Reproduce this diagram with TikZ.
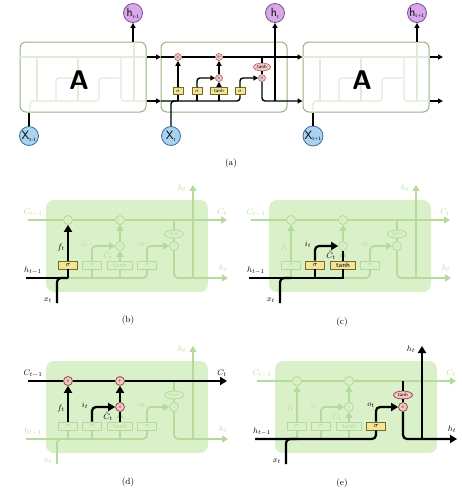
\documentclass[tikz,border=0pt]{standalone}
\usepackage{amsmath,amssymb}
\usepackage{xcolor}
\usepackage{tikz}
\usetikzlibrary{arrows.meta,positioning,calc,shapes.geometric}

\definecolor{hcol}{HTML}{D7A9E8}
\definecolor{hline}{HTML}{7E4A93}
\definecolor{xcol}{HTML}{A9D1F0}
\definecolor{xline}{HTML}{3F6E96}
\definecolor{gatecol}{HTML}{F4E49A}
\definecolor{gateline}{HTML}{7A6A20}
\definecolor{opcol}{HTML}{F2C6C6}
\definecolor{opline}{HTML}{9A4A4A}
\definecolor{boxline}{HTML}{93B382}
\definecolor{afaintc}{HTML}{E0EBD8}
\definecolor{cellfill}{HTML}{DAF0C9}
\definecolor{fadecol}{HTML}{B4DA9C}

% which parts each of the panels (b)-(e) brings forward
\tikzset{
  on-b-g1/.style={gon}, on-b-lh0/.style={hlab}, on-b-lx/.style={hlab}, on-b-lf/.style={hlab},
  on-c-g2/.style={gon}, on-c-g3/.style={gon}, on-c-lh0/.style={hlab}, on-c-lx/.style={hlab},
  on-c-li/.style={hlab}, on-c-lct/.style={hlab},
  on-d-f/.style={opon}, on-d-add/.style={opon}, on-d-i/.style={opon}, on-d-lc0/.style={hlab},
  on-d-lc1/.style={hlab}, on-d-lf/.style={hlab}, on-d-li/.style={hlab}, on-d-lct/.style={hlab},
  on-e-g4/.style={gon}, on-e-tanh/.style={opon}, on-e-o/.style={opon}, on-e-lh0/.style={hlab},
  on-e-lx/.style={hlab}, on-e-lo/.style={hlab}, on-e-lh1/.style={hlab}, on-e-lh2/.style={hlab}
}

\begin{document}
\begin{tikzpicture}[x=1pt,y=-1pt,
  abox/.style={draw=boxline,line width=1pt,rounded corners=6pt,fill=white,minimum width=126pt,minimum height=70pt},
  hnode/.style={circle,draw=hline,fill=hcol,line width=0.8pt,minimum size=19pt,inner sep=0pt,font=\sffamily\large},
  xnode/.style={circle,draw=xline,fill=xcol,line width=0.8pt,minimum size=19pt,inner sep=0pt,font=\sffamily\large},
  ag/.style={draw=gateline,fill=gatecol,line width=0.5pt,minimum height=7pt,minimum width=10pt,inner sep=0pt,font=\sffamily\fontsize{5}{6}\selectfont},
  aop/.style={circle,draw=opline,fill=opcol,line width=0.5pt,minimum size=7pt,inner sep=0pt,font=\sffamily\fontsize{5}{6}\selectfont},
  aline/.style={line width=1.4pt},
  aarr/.style={aline,-{Triangle[length=5pt,width=5pt]}},
  afaint/.style={color=afaintc,line width=1.2pt},
  cellbg/.style={fill=cellfill,rounded corners=8pt,minimum width=162pt,minimum height=92pt},
  fl/.style={color=fadecol,line width=1.8pt},
  farr/.style={fl,-{Triangle[length=6pt,width=7pt]}},
  fgate/.style={draw=fadecol,fill=cellfill,line width=0.8pt,minimum width=19pt,minimum height=8pt,inner sep=0pt,text=fadecol,font=\sffamily\scriptsize},
  fop/.style={circle,draw=fadecol,fill=cellfill,line width=0.8pt,minimum size=9pt,inner sep=0pt,text=fadecol,font=\sffamily\tiny},
  gon/.style={draw=gateline,fill=gatecol,text=black},
  opon/.style={draw=opline,fill=opcol,text=black},
  hl/.style={line width=2.2pt,color=black},
  harr/.style={hl,-{Triangle[length=7pt,width=8pt]}},
  flab/.style={font=\footnotesize,text=fadecol,inner sep=0.5pt},
  hlab/.style={text=black},
  captxt/.style={font=\small}]
\useasboundingbox (0,0) rectangle (461,493);

% (a) the unrolled chain
\node[abox] (boxL) at (83,77) {};
\node[abox] (boxM) at (224,77) {};
\node[abox] (boxR) at (366,77) {};
\foreach \bx in {20,303}{
  \begin{scope}[shift={(\bx,42)},afaint]
    \draw (0,15) -- (126,15);
    \draw[rounded corners=3pt] (10,70) |- (79,59) |- (99,36);
    \draw (17,59) -- (17,17);
    \draw[rounded corners=3pt] (36,59) |- (56,36);
    \draw (58,59) -- (58,17);
    \draw[rounded corners=3pt] (101,15) |- (126,59);
    \draw (114,59) -- (114,0);
  \end{scope}
}
\node[font=\sffamily\bfseries\fontsize{27}{27}\selectfont] (AL) at (79,80) {A};
\node[font=\sffamily\bfseries\fontsize{27}{27}\selectfont] (AR) at (362,80) {A};

\node[hnode] (hL) at (133,13) {h\textsubscript{\tiny t-1}};
\node[hnode] (hM) at (275,13) {h\textsubscript{\tiny t}};
\node[hnode] (hR) at (417,13) {h\textsubscript{\tiny t+1}};
\node[xnode] (xL) at (29,136) {X\textsubscript{\tiny t-1}};
\node[xnode] (xM) at (171,136) {X\textsubscript{\tiny t}};
\node[xnode] (xR) at (313,136) {X\textsubscript{\tiny t+1}};

\coordinate (Mcin) at (161,57);
\coordinate (Mhin) at (161,101);
\coordinate (Rcend) at (443,57);
\coordinate (Rhend) at (443,101);
\node[aop] (Mf) at (178,57) {×};
\node[aop] (Madd) at (219,57) {+};
\node[aop] (Mi) at (219,78) {×};
\node[aop] (Mo) at (262,78) {×};
\node[aop,ellipse,minimum width=17pt,minimum height=8pt] (Mtanh) at (262,67) {tanh};
\node[ag] (Mg1) at (178,91) {$\sigma$};
\node[ag] (Mg2) at (197,91) {$\sigma$};
\node[ag,minimum width=17pt] (Mg3) at (219,91) {tanh};
\node[ag] (Mg4) at (240,91) {$\sigma$};

\draw[aarr] (boxL.east |- Mcin) -- (Mcin);
\draw[aarr] (boxL.east |- Mhin) -- (Mhin);
\draw[aarr] (Mcin) -- (Mf) -- (Madd) -- (boxR.west |- Mcin);
\draw[aline,rounded corners=3pt] (Mhin) -| (Mg4);
\draw[aline,rounded corners=3pt] (xM) |- (Mg1 |- Mhin);
\foreach \g in {Mg1,Mg2,Mg3} \draw[aline] (\g) -- (\g |- Mhin);
\draw[aarr] (Mg1) -- (Mf);
\draw[aarr,rounded corners=3pt] (Mg2) |- (Mi);
\draw[aarr] (Mg3) -- (Mi);
\draw[aarr] (Mi) -- (Madd);
\draw[aarr,rounded corners=3pt] (Mg4) |- (Mo);
\draw[aline] (Mcin -| Mtanh) -- (Mtanh);
\draw[aline] (Mtanh) -- (Mo);
\draw[aarr,rounded corners=3pt] (Mo) |- (boxR.west |- Mhin);
\draw[aarr] (Mhin -| hM) -- (hM);
\draw[aarr] (boxL.north -| hL) -- (hL);
\draw[aarr] (boxR.north -| hR) -- (hR);
\draw[aline] (xL) -- (xL |- boxL.south);
\draw[aline] (xR) -- (xR |- boxR.south);
\draw[aarr] (boxR.east |- Mcin) -- (Rcend);
\draw[aarr] (boxR.east |- Mhin) -- (Rhend);
\node[captxt] (capa) at (231,163) {(a)};

% (b)-(e) one cell each
\foreach \p/\ox/\oy in {b/46/200,c/269/200,d/46/361,e/275/361}{
  \begin{scope}[shift={(\ox,\oy)}]
    \node[cellbg] (\p-box) at (81,46) {};
    \coordinate (\p-cin) at (-18,20);
    \coordinate (\p-cout) at (181,20);
    \coordinate (\p-hin) at (-20,78);
    \coordinate (\p-hout) at (182,78);
    \coordinate (\p-xin) at (11,103);
    \coordinate (\p-htop) at (147,-15);
    \coordinate (\p-hj) at (147,78);
    \node[fop,on-\p-f/.try] (\p-f) at (22,20) {×};
    \node[fop,on-\p-add/.try] (\p-add) at (74,20) {+};
    \node[fop,on-\p-i/.try] (\p-i) at (74,46) {×};
    \node[fop,on-\p-o/.try] (\p-o) at (128,46) {×};
    \node[fop,ellipse,minimum width=19pt,minimum height=8pt,on-\p-tanh/.try] (\p-tanh) at (128,34) {tanh};
    \node[fgate,on-\p-g1/.try] (\p-g1) at (22,65) {$\sigma$};
    \node[fgate,on-\p-g2/.try] (\p-g2) at (46,65) {$\sigma$};
    \node[fgate,minimum width=25pt,on-\p-g3/.try] (\p-g3) at (74,65) {tanh};
    \node[fgate,on-\p-g4/.try] (\p-g4) at (101,65) {$\sigma$};
    \draw[farr] (\p-cin) -- (\p-f) -- (\p-add) -- (\p-cout);
    \draw[fl,rounded corners=4pt] (\p-hin) -| (\p-g4);
    \draw[fl,rounded corners=4pt] (\p-xin) |- (\p-g1 |- \p-hin);
    \foreach \g in {g1,g2,g3} \draw[fl] (\p-\g) -- (\p-\g |- \p-hin);
    \draw[farr] (\p-g1) -- (\p-f);
    \draw[farr,rounded corners=4pt] (\p-g2) |- (\p-i);
    \draw[farr] (\p-g3) -- (\p-i);
    \draw[farr] (\p-i) -- (\p-add);
    \draw[farr,rounded corners=4pt] (\p-g4) |- (\p-o);
    \draw[fl] (\p-cin -| \p-tanh) -- (\p-tanh);
    \draw[fl] (\p-tanh) -- (\p-o);
    \draw[farr,rounded corners=4pt] (\p-o) |- (\p-hout);
    \draw[farr] (\p-hj) -- (\p-htop);
    \node[flab,on-\p-lc0/.try] (\p-lc0) at (-13,13) {$C_{t-1}$};
    \node[flab,on-\p-lc1/.try] (\p-lc1) at (176,12) {$C_t$};
    \node[flab,on-\p-lh0/.try] (\p-lh0) at (-13,71) {$h_{t-1}$};
    \node[flab,on-\p-lh1/.try] (\p-lh1) at (177,68) {$h_t$};
    \node[flab,on-\p-lh2/.try] (\p-lh2) at (136,-12) {$h_t$};
    \node[flab,on-\p-lx/.try] (\p-lx) at (2,100) {$x_t$};
    \node[flab,on-\p-lf/.try] (\p-lf) at (15,47) {$f_t$};
    \node[flab,on-\p-li/.try] (\p-li) at (39,44) {$i_t$};
    \node[flab,on-\p-lct/.try] (\p-lct) at (62,55) {$\tilde{C}_t$};
    \node[flab,on-\p-lo/.try] (\p-lo) at (96,44) {$o_t$};
  \end{scope}
}

% (b) forget gate
\draw[hl] (b-hin) -- (b-g1 |- b-hin);
\draw[hl,rounded corners=4pt] (b-xin) |- (b-g1 |- b-hin);
\draw[hl] (b-g1 |- b-hin) -- (b-g1);
\draw[harr] (b-g1) -- (b-f);
\node[captxt] (capb) at (128,320) {(b)};

% (c) input gate
\draw[hl] (c-hin) -- (c-g3 |- c-hin) -- (c-g3);
\draw[hl,rounded corners=4pt] (c-xin) |- (c-g1 |- c-hin);
\draw[hl] (c-g2 |- c-hin) -- (c-g2);
\draw[harr,rounded corners=4pt] (c-g2) |- (c-i);
\draw[hl] (c-g3) -- (c-i);
\node[captxt] (capc) at (342,322) {(c)};

% (d) cell state update
\draw[harr] (d-cin) -- (d-f) -- (d-add) -- (d-cout);
\draw[harr] (d-g1) -- (d-f);
\draw[harr,rounded corners=4pt] (d-g2) |- (d-i);
\draw[hl] (d-g3) -- (d-i);
\draw[harr] (d-i) -- (d-add);
\node[captxt] (capd) at (128,482) {(d)};

% (e) output gate
\draw[hl,rounded corners=4pt] (e-hin) -| (e-g4);
\draw[hl,rounded corners=4pt] (e-xin) |- (e-g1 |- e-hin);
\draw[harr,rounded corners=4pt] (e-g4) |- (e-o);
\draw[hl] (e-cin -| e-tanh) -- (e-tanh);
\draw[hl] (e-tanh) -- (e-o);
\draw[harr,rounded corners=4pt] (e-o) |- (e-hout);
\draw[harr] (e-hj) -- (e-htop);
\node[captxt] (cape) at (342,483) {(e)};
\end{tikzpicture}
\end{document}
